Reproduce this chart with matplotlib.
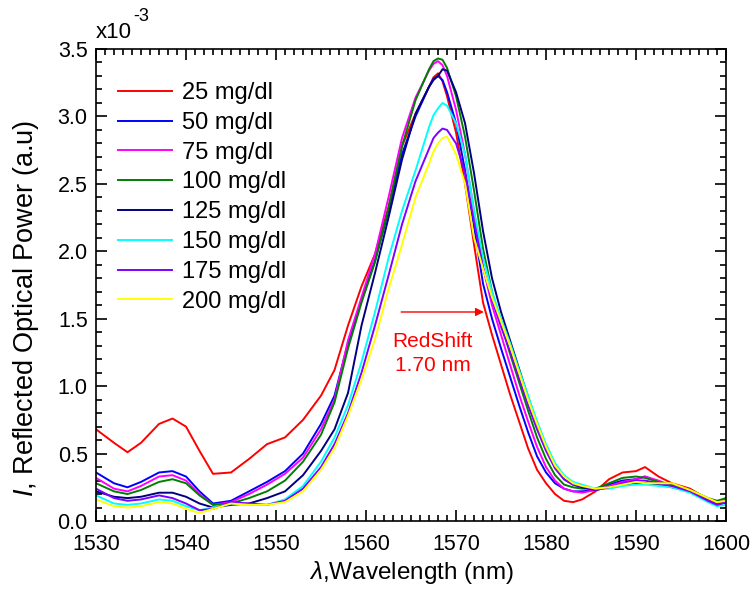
import matplotlib
matplotlib.use('Agg')
import matplotlib.pyplot as plt
from matplotlib.ticker import MultipleLocator

plt.rcParams['font.family'] = ['Liberation Sans', 'DejaVu Sans']
plt.rcParams['mathtext.fontset'] = 'custom'
plt.rcParams['mathtext.rm'] = 'Liberation Sans'
plt.rcParams['mathtext.it'] = 'Liberation Sans:italic'

# wavelength grid (nm), values in units of 1e-3 a.u.
wavelength = [1530, 1532, 1533.5, 1535, 1537, 1538.5, 1540, 1541.5, 1543, 1545, 1547, 1549, 1551,
              1553, 1555, 1556.5, 1558, 1559.5, 1561, 1562.5, 1564, 1565.5, 1567, 1567.5, 1568, 1568.5,
              1569, 1570, 1571, 1572, 1573, 1574, 1575, 1576, 1577, 1578, 1579, 1580, 1581, 1582, 1583,
              1584, 1585.5, 1587, 1588.5, 1590, 1591, 1592.5, 1594, 1596, 1598, 1599, 1600]

p25 = [0.68, 0.58, 0.51, 0.58, 0.72, 0.76, 0.70, 0.52, 0.35, 0.36, 0.46, 0.57, 0.62,
       0.75, 0.93, 1.12, 1.45, 1.74, 1.98, 2.33, 2.78, 3.02, 3.22, 3.29, 3.32, 3.26,
       3.15, 2.88, 2.50, 2.05, 1.62, 1.38, 1.16, 0.94, 0.74, 0.54, 0.38, 0.28, 0.20, 0.15, 0.14,
       0.16, 0.22, 0.31, 0.36, 0.37, 0.40, 0.33, 0.28, 0.24, 0.16, 0.12, 0.16]
p50 = [0.36, 0.28, 0.25, 0.29, 0.36, 0.37, 0.33, 0.22, 0.13, 0.15, 0.22, 0.29, 0.37,
       0.50, 0.72, 0.93, 1.32, 1.64, 1.93, 2.30, 2.72, 3.00, 3.22, 3.28, 3.30, 3.27,
       3.18, 2.95, 2.60, 2.18, 1.76, 1.50, 1.28, 1.07, 0.86, 0.66, 0.48, 0.36, 0.28, 0.24, 0.22,
       0.22, 0.23, 0.27, 0.30, 0.31, 0.33, 0.29, 0.26, 0.22, 0.16, 0.12, 0.14]
p75 = [0.32, 0.24, 0.22, 0.26, 0.33, 0.34, 0.30, 0.20, 0.12, 0.14, 0.20, 0.27, 0.35,
       0.47, 0.68, 0.90, 1.34, 1.66, 1.98, 2.40, 2.84, 3.14, 3.34, 3.39, 3.41, 3.38,
       3.30, 3.05, 2.72, 2.30, 1.88, 1.60, 1.38, 1.16, 0.94, 0.74, 0.55, 0.40, 0.30, 0.24, 0.22,
       0.21, 0.23, 0.26, 0.29, 0.31, 0.33, 0.30, 0.26, 0.22, 0.16, 0.13, 0.17]
p100 = [0.28, 0.22, 0.20, 0.23, 0.29, 0.31, 0.28, 0.19, 0.12, 0.13, 0.17, 0.22, 0.30,
        0.44, 0.64, 0.88, 1.28, 1.62, 1.92, 2.32, 2.78, 3.12, 3.35, 3.41, 3.43, 3.42,
        3.36, 3.15, 2.85, 2.45, 2.02, 1.70, 1.46, 1.24, 1.03, 0.82, 0.62, 0.46, 0.34, 0.27, 0.25,
        0.24, 0.24, 0.28, 0.32, 0.33, 0.32, 0.29, 0.27, 0.23, 0.17, 0.15, 0.17]
p125 = [0.22, 0.18, 0.17, 0.18, 0.21, 0.21, 0.18, 0.13, 0.10, 0.12, 0.13, 0.17, 0.22,
        0.34, 0.52, 0.68, 0.95, 1.45, 1.84, 2.25, 2.68, 3.02, 3.22, 3.27, 3.30, 3.35,
        3.34, 3.18, 2.95, 2.58, 2.15, 1.80, 1.55, 1.34, 1.13, 0.92, 0.72, 0.54, 0.40, 0.31, 0.27,
        0.25, 0.23, 0.25, 0.27, 0.28, 0.28, 0.27, 0.25, 0.22, 0.15, 0.12, 0.14]
p150 = [0.19, 0.13, 0.12, 0.13, 0.16, 0.15, 0.11, 0.08, 0.10, 0.13, 0.12, 0.12, 0.16,
        0.26, 0.44, 0.62, 0.86, 1.18, 1.55, 1.95, 2.30, 2.60, 2.92, 3.01, 3.06, 3.10,
        3.08, 2.95, 2.72, 2.30, 1.95, 1.70, 1.50, 1.32, 1.12, 0.93, 0.74, 0.57, 0.43, 0.34, 0.29,
        0.27, 0.24, 0.24, 0.26, 0.27, 0.27, 0.26, 0.25, 0.21, 0.14, 0.11, 0.12]
p175 = [0.24, 0.17, 0.15, 0.16, 0.19, 0.17, 0.13, 0.08, 0.09, 0.14, 0.13, 0.12, 0.15,
        0.24, 0.40, 0.57, 0.80, 1.10, 1.45, 1.82, 2.20, 2.52, 2.76, 2.84, 2.88, 2.91,
        2.90, 2.80, 2.58, 2.22, 1.88, 1.64, 1.44, 1.26, 1.06, 0.86, 0.68, 0.52, 0.39, 0.31, 0.27,
        0.26, 0.23, 0.25, 0.28, 0.30, 0.30, 0.28, 0.26, 0.22, 0.15, 0.12, 0.14]
p200 = [0.16, 0.11, 0.10, 0.11, 0.14, 0.13, 0.09, 0.06, 0.09, 0.13, 0.12, 0.12, 0.14,
        0.22, 0.38, 0.54, 0.78, 1.05, 1.35, 1.72, 2.05, 2.40, 2.65, 2.74, 2.80, 2.84,
        2.85, 2.72, 2.50, 2.10, 1.87, 1.66, 1.48, 1.30, 1.10, 0.90, 0.72, 0.55, 0.41, 0.33, 0.28,
        0.26, 0.24, 0.25, 0.27, 0.29, 0.28, 0.28, 0.28, 0.23, 0.17, 0.14, 0.15]

series = [p25, p50, p75, p100, p125, p150, p175, p200]
labels = ['25 mg/dl', '50 mg/dl', '75 mg/dl', '100 mg/dl', '125 mg/dl', '150 mg/dl', '175 mg/dl', '200 mg/dl']
colors = ['#ff0000', '#0000ff', '#ff00ff', '#008000', '#000080', '#00ffff', '#8000ff', '#ffff00']

fig = plt.figure(figsize=(7.53, 5.89), dpi=100)
ax = fig.add_axes([0.1275, 0.1154, 0.8367, 0.8014])

for vals, lab, c in zip(series, labels, colors):
    ax.plot(wavelength, vals, color=c, lw=1.4, label=lab)

ax.set_xlim(1530, 1600)
ax.set_ylim(0, 3.5)
ax.xaxis.set_major_locator(MultipleLocator(10))
ax.xaxis.set_minor_locator(MultipleLocator(1))
ax.yaxis.set_major_locator(MultipleLocator(0.5))
ax.yaxis.set_minor_locator(MultipleLocator(0.1))
ax.yaxis.set_major_formatter(plt.FormatStrFormatter('%.1f'))
ax.tick_params(which='both', direction='in', top=True, right=True, labelsize=15.5, width=1.2)
ax.tick_params(which='major', length=8)
ax.tick_params(axis='x', which='major', pad=9)
ax.tick_params(axis='y', which='major', pad=6)
ax.tick_params(which='minor', length=4)
for s in ax.spines.values():
    s.set_linewidth(1.2)

ax.set_xlabel(r'$\lambda$,Wavelength (nm)', fontsize=17.5, labelpad=3)
ax.set_ylabel(r'$I$, Reflected Optical Power (a.u)', fontsize=19.5)
ax.yaxis.set_label_coords(-0.088, 0.45)

ax.text(0.0, 1.012, 'x10', transform=ax.transAxes, fontsize=16, ha='left', va='bottom')
ax.text(0.059, 1.05, '-3', transform=ax.transAxes, fontsize=13, ha='left', va='bottom')

ax.legend(loc='upper left', bbox_to_anchor=(0.035, 0.93), frameon=False, fontsize=17,
          handlelength=2.3, handletextpad=0.42, labelspacing=0.33, borderpad=0, borderaxespad=0)

ax.annotate('', xy=(1573.4, 1.55), xytext=(1563.6, 1.55),
            arrowprops=dict(arrowstyle='-|>', color='red', lw=1, mutation_scale=12))
ax.text(1567.4, 1.40, 'RedShift\n1.70 nm', color='red', fontsize=15, ha='center', va='top',
        linespacing=1.35)

fig.savefig('out.png', dpi=100)
